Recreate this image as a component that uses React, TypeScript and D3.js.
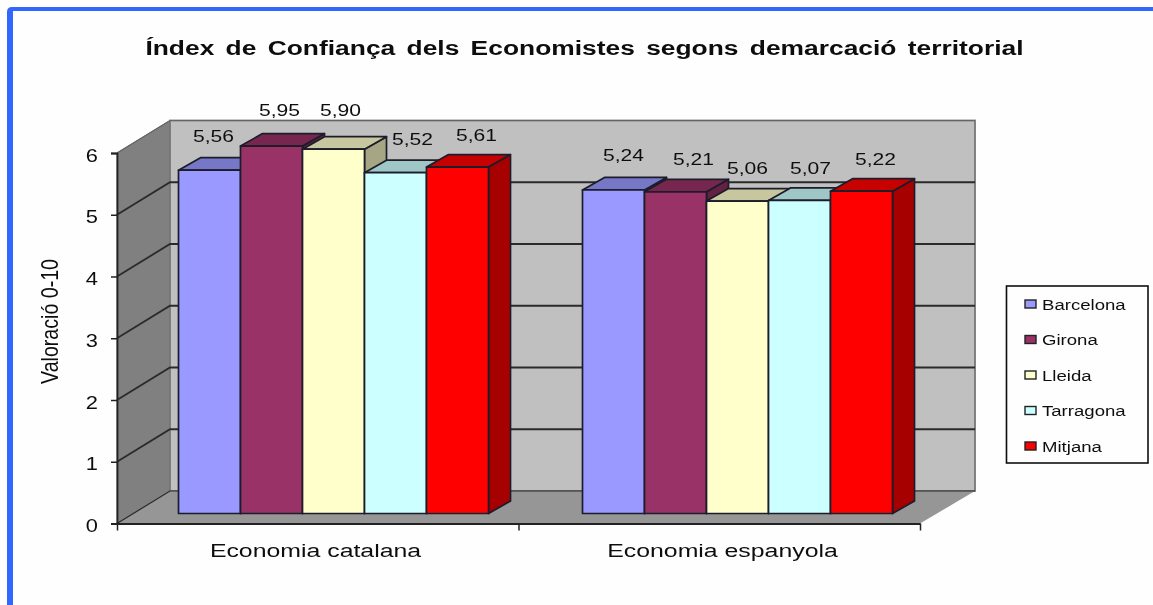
import React, { useEffect, useRef } from 'react'
import { axisBottom, axisLeft, rgb, scaleBand, scaleLinear, select } from 'd3'

const title = 'Índex de Confiança dels Economistes segons demarcació territorial'
const yTitle = 'Valoració 0-10'
const categories = ['Economia catalana', 'Economia espanyola']
const seriesNames = ['Barcelona', 'Girona', 'Lleida', 'Tarragona', 'Mitjana']
const seriesColors = ['#9999ff', '#993366', '#ffffcc', '#ccffff', '#ff0000']
const catalana = [5.56, 5.95, 5.9, 5.52, 5.61]
const espanyola = [5.24, 5.21, 5.06, 5.07, 5.22]
const values = [catalana, espanyola]
const yTicks = [0, 1, 2, 3, 4, 5, 6]

// the labels in the original sit a bit unevenly, nudges are per bar
const labelShift = [
  [4, 28],
  [8, 30],
  [7, 33],
  [17, 28],
  [19, 26],
  [10, 29],
  [18, 27],
  [10, 27],
  [11, 26],
  [14, 26],
]

const FONT = '"Liberation Sans", Arial, sans-serif'
const left = 117
const right = 920
const top = 153
const bottom = 523.5
const wallDx = 53
const wallDy = 32.5
const barDx = 22
const barDy = 12.5
const barInsetX = 14.5
const barInsetY = 10

const y = scaleLinear().domain([0, 6]).range([bottom, top])
const edge = scaleLinear().domain([0, 2]).range([left, right])
const x0 = scaleBand<string>().domain(categories).range([left, left + 808])
const x1 = scaleBand<string>()
  .domain(seriesNames)
  .range([0, x0.bandwidth()])
  .paddingInner(0)
  .paddingOuter(0.758)
const labelX = scaleBand<string>().domain(categories).range([112, 926])

const shade = (c: string, k: number) => {
  const { r, g, b } = rgb(c)
  return rgb(r * k, g * k, b * k).formatHex()
}

function Stretched({ x, y, size, children, stretch = 1.2, anchor = 'middle', weight = 'normal', spacing = 0 }: any) {
  return (
    <text
      transform={`translate(${x},${y}) scale(${stretch},1)`}
      textAnchor={anchor}
      fontFamily={FONT}
      fontSize={size}
      fontWeight={weight}
      wordSpacing={spacing}
      fill="#111"
    >
      {children}
    </text>
  )
}

function Bar({ x, w, value, color }: { x: number; w: number; value: number; color: string }) {
  const base = bottom - barInsetY
  const h = y(0) - y(value)
  const t = base - h
  const r = x + w
  return (
    <g stroke="#1c1c2a" strokeWidth={1.7} strokeLinejoin="round">
      <polygon
        points={`${r},${t} ${r + barDx},${t - barDy} ${r + barDx},${base - barDy} ${r},${base}`}
        fill={shade(color, 0.65)}
      />
      <polygon
        points={`${x},${t} ${x + barDx},${t - barDy} ${r + barDx},${t - barDy} ${r},${t}`}
        fill={shade(color, 0.78)}
      />
      <rect x={x} y={t} width={w} height={h} fill={color} />
    </g>
  )
}

export default function App() {
  const yAxisRef = useRef<SVGGElement>(null)
  const xAxisRef = useRef<SVGGElement>(null)

  useEffect(() => {
    const yAxis = axisLeft(y).tickValues(yTicks).tickSize(6).tickFormat((d) => String(d))
    const yg = select(yAxisRef.current)
    yg.call(yAxis as any)
    yg.select('.domain').attr('stroke', '#222').attr('stroke-width', 1.8)
    yg.selectAll('.tick line').attr('stroke', '#222').attr('stroke-width', 1.5)
    yg.selectAll('.tick text')
      .attr('x', 0)
      .attr('dy', 0)
      .attr('y', 0)
      .attr('fill', '#111')
      .style('font-family', FONT)
      .style('font-size', '19px')
      .attr('transform', 'translate(-19,8) scale(1.15,1)')

    const xAxis = axisBottom(edge).tickValues([0, 1, 2]).tickSize(7).tickSizeOuter(0).tickFormat(() => '')
    const xg = select(xAxisRef.current)
    xg.call(xAxis as any)
    xg.select('.domain').attr('stroke', '#222').attr('stroke-width', 1.8)
    xg.selectAll('.tick line').attr('stroke', '#222').attr('stroke-width', 1.5)
  }, [])

  const backY = (d: number) => y(d) - wallDy

  return (
    <svg
      width={1153}
      height={605}
      style={{ position: 'absolute', left: 0, top: 0, background: '#fefefe' }}
    >
      <defs>
        <filter id="soft" x="0" y="0" width="100%" height="100%">
          <feGaussianBlur stdDeviation="0.5" />
        </filter>
      </defs>
      <g filter="url(#soft)">
        <path d="M7,605 V12 Q7,7 12,7 H1153 V11 H13 V605 Z" fill="#3366ff" />

        <Stretched x={584.5} y={55} size={20} weight="bold" spacing={3} stretch={1.32}>
          {title}
        </Stretched>
        <text
          transform="translate(58,321.5) rotate(-90) scale(0.98,1.2)"
          textAnchor="middle"
          fontFamily={FONT}
          fontSize={20}
          fill="#111"
        >
          {yTitle}
        </text>

        {/* walls */}
        <polygon
          points={`${left},${y(6)} ${left + wallDx},${backY(6)} ${left + wallDx},${backY(0)} ${left},${y(0)}`}
          fill="#808080"
          stroke="#666"
        />
        <rect
          x={left + wallDx}
          y={backY(6)}
          width={right - left + 2}
          height={y(0) - y(6)}
          fill="#c0c0c0"
          stroke="#777"
          strokeWidth={1.8}
        />
        <polygon
          points={`${left},${y(0)} ${right},${y(0)} ${right + wallDx + 2},${backY(0)} ${left + wallDx},${backY(0)}`}
          fill="#969696"
        />
        {yTicks.map((d) => (
          <path
            key={d}
            d={`M${left},${y(d)} L${left + wallDx},${backY(d)} H${right + wallDx + 2}`}
            fill="none"
            stroke={d === 6 ? '#666' : '#2b2b2b'}
            strokeWidth={d === 6 || d === 0 ? 1.2 : 1.8}
          />
        ))}

        {categories.map((cat, i) =>
          seriesNames.map((name, j) => (
            <Bar
              key={`${cat}-${name}`}
              x={(x0(cat) as number) + (x1(name) as number) + barInsetX}
              w={x1.bandwidth()}
              value={values[i][j]}
              color={seriesColors[j]}
            />
          )),
        )}

        <g ref={yAxisRef} transform={`translate(${left},0)`} />
        <g ref={xAxisRef} transform={`translate(0,${bottom})`} />

        {categories.map((cat, i) =>
          values[i].map((v, j) => {
            const shift = labelShift[i * seriesNames.length + j]
            const cx =
              (x0(cat) as number) + (x1(seriesNames[j]) as number) + barInsetX + x1.bandwidth() / 2
            return (
              <Stretched key={`${cat}-${j}`} x={cx + shift[0]} y={bottom - barInsetY - (y(0) - y(v)) - shift[1]} size={17} stretch={1.24}>
                {v.toFixed(2).replace('.', ',')}
              </Stretched>
            )
          }),
        )}

        {categories.map((cat) => (
          <Stretched key={cat} x={(labelX(cat) as number) + labelX.bandwidth() / 2} y={557} size={18} stretch={1.38}>
            {cat}
          </Stretched>
        ))}

        {/* legend */}
        <rect x={1006.5} y={286} width={141.5} height={177} fill="#fefefe" stroke="#111" strokeWidth={1.6} />
        {seriesNames.map((name, i) => {
          const ly = 304 + i * 35.5
          return (
            <g key={name}>
              <rect x={1025} y={ly - 4} width={11} height={8} fill={seriesColors[i]} stroke="#222" strokeWidth={1.4} />
              <Stretched x={1042} y={ly + 5.5} size={15} anchor="start" stretch={1.24}>
                {name}
              </Stretched>
            </g>
          )
        })}
      </g>
    </svg>
  )
}
